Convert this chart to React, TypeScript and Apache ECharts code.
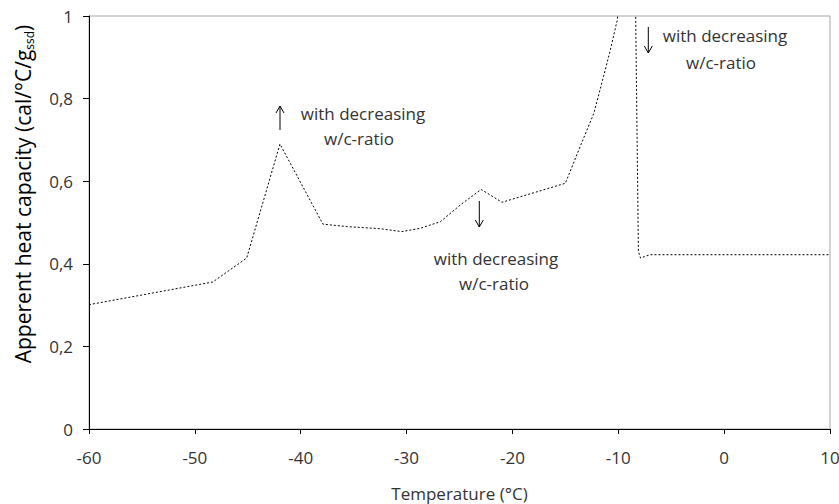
import React, { useEffect, useRef } from "react";
import * as echarts from "echarts";

// Temperature (°C)
const temperature = [
  -60, -48.3, -45.1, -41.96, -37.9, -35.6, -32.5, -30.45, -28.7, -26.8, -24.9,
  -22.96, -20.98, -15.0, -13.6, -12.3, -11.4, -10.75, -10.1, -9.0, -8.38, -8.1,
  -7.9, -7.0, 10,
];
// Apparent heat capacity (cal/°C/g)
const heatCapacity = [
  0.301, 0.356, 0.414, 0.69, 0.496, 0.49, 0.485, 0.478, 0.486, 0.502, 0.543,
  0.58, 0.549, 0.595, 0.684, 0.765, 0.853, 0.918, 0.99, 1.3, 1.05, 0.43,
  0.414, 0.422, 0.422,
];
const yTicks = [0, 0.2, 0.4, 0.6, 0.8, 1];
const xTicks = [-60, -50, -40, -30, -20, -10, 0, 10];

const FONT = "'Open Sans', sans-serif";
const TEXT = "#333333";

export default function App() {
  const ref = useRef<HTMLDivElement>(null);
  useEffect(() => {
    if (!ref.current) return;
    const chart = echarts.init(ref.current, null, { renderer: "svg" });
    const data = temperature.map((t, i) => [t, heatCapacity[i]]);
    const arrow = (x: number, y1: number, y2: number) => {
      const dir = y2 < y1 ? 1 : -1;
      return [
        { type: "line", shape: { x1: x, y1, x2: x, y2 }, style: { stroke: "#000", lineWidth: 1 } },
        {
          type: "polyline",
          shape: { points: [[x - 4, y2 + 7 * dir], [x, y2], [x + 4, y2 + 7 * dir]] },
          style: { stroke: "#000", lineWidth: 1, fill: "none" },
        },
      ];
    };
    const label = (x: number, y: number, text: string) => ({
      type: "text",
      x,
      y,
      style: {
        text,
        fill: TEXT,
        font: `17px ${FONT}`,
        textAlign: "center",
        textVerticalAlign: "middle",
      },
    });
    chart.setOption({
      animation: false,
      grid: {
        left: 89,
        right: 9,
        top: 16,
        bottom: 75,
        show: true,
        borderColor: "#a6a6a6",
        borderWidth: 1,
        containLabel: false,
        outerBoundsMode: "none",
      },
      xAxis: {
        type: "value",
        min: xTicks[0],
        max: xTicks[xTicks.length - 1],
        interval: 10,
        name: "Temperature (°C)",
        nameLocation: "middle",
        nameGap: 56,
        nameTextStyle: { fontFamily: FONT, fontSize: 17, color: TEXT },
        axisLine: { show: true, onZero: false, lineStyle: { color: "#000", width: 1 } },
        axisTick: { show: true, inside: false, length: 5, lineStyle: { color: "#000" } },
        axisLabel: { margin: 20, fontFamily: FONT, fontSize: 17, color: TEXT, showMaxLabel: true, showMinLabel: true },
        splitLine: { show: false },
      },
      yAxis: {
        type: "value",
        min: yTicks[0],
        max: yTicks[yTicks.length - 1],
        interval: 0.2,
        axisLine: { show: true, onZero: false, lineStyle: { color: "#000", width: 1 } },
        axisTick: { show: true, inside: false, length: 6, lineStyle: { color: "#000" } },
        axisLabel: {
          margin: 16,
          fontFamily: FONT,
          fontSize: 17,
          color: TEXT,
          formatter: (v: number) => String(Math.round(v * 10) / 10).replace(".", ","),
        },
        splitLine: { show: false },
      },
      series: [
        {
          type: "line",
          data,
          showSymbol: false,
          symbol: "none",
          clip: true,
          lineStyle: { color: "#000", width: 1, type: [2, 2] },
        },
      ],
      graphic: [
        {
          type: "text",
          x: 23,
          y: 194,
          rotation: Math.PI / 2,
          style: {
            text: "{a|Apperent heat capacity (cal/°C/g}{b|ssd}{a|)}",
            textAlign: "center",
            textVerticalAlign: "middle",
            rich: {
              a: { fontFamily: FONT, fontSize: 21, color: TEXT, lineHeight: 26, verticalAlign: "middle" },
              b: { fontFamily: FONT, fontSize: 12, color: TEXT, lineHeight: 26, verticalAlign: "bottom", padding: [0, 0, 1, 0] },
            },
          },
        },
        ...arrow(280, 130, 106),
        label(363, 113, "with decreasing"),
        label(359, 138, "w/c-ratio"),
        ...arrow(479.3, 201, 227),
        label(496, 258, "with decreasing"),
        label(494, 283, "w/c-ratio"),
        ...arrow(648.3, 27, 53),
        label(725, 35, "with decreasing"),
        label(721, 62, "w/c-ratio"),
      ],
    });
    return () => chart.dispose();
  }, []);
  return (
    <div
      ref={ref}
      style={{ position: "fixed", left: 0, top: 0, width: 839, height: 504, background: "#fff" }}
    />
  );
}
